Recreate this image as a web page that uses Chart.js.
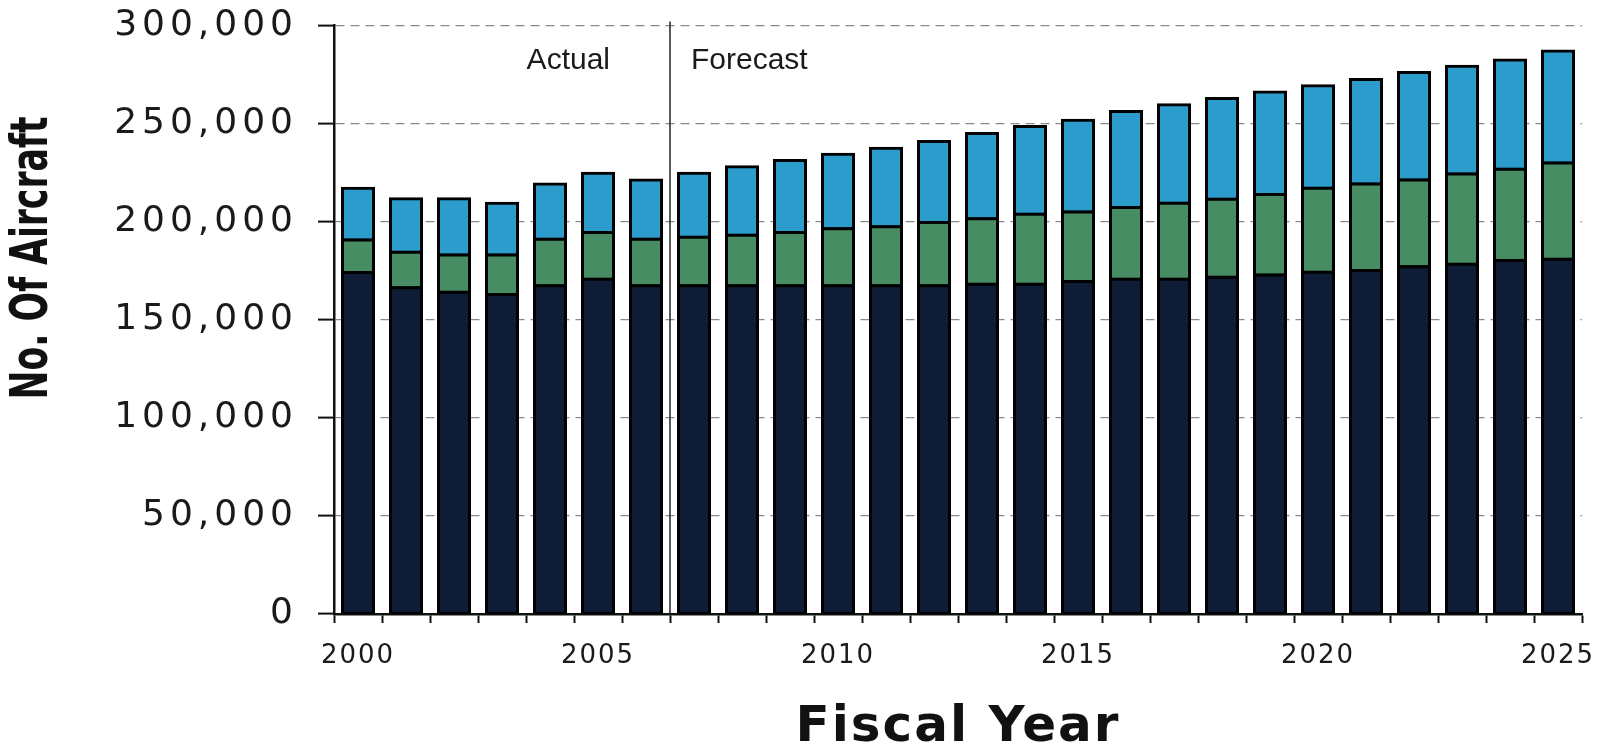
<!DOCTYPE html>
<html>
<head>
<meta charset="utf-8">
<title>No. Of Aircraft by Fiscal Year</title>
<script src="https://cdn.jsdelivr.net/npm/chart.js@4.4.1/dist/chart.umd.min.js"></script>
<style>
  html, body { margin: 0; padding: 0; background: #fff; }
  #wrap { width: 1604px; height: 749px; }
</style>
</head>
<body>
<div id="wrap"><canvas id="fleetChart" width="1604" height="749"></canvas></div>
<script>
// fiscal years on the x axis
const years = ['2000', '2001', '2002', '2003', '2004', '2005', '2006', '2007', '2008', '2009',
  '2010', '2011', '2012', '2013', '2014', '2015', '2016', '2017', '2018', '2019',
  '2020', '2021', '2022', '2023', '2024', '2025'];

// bottom segment (dark navy)
const darkSeries = [174100, 166400, 164100, 162900, 167300, 170700, 167300, 167300, 167300, 167300,
  167300, 167300, 167300, 168100, 168100, 169500, 170700, 170700, 171700, 172900,
  174300, 175100, 177100, 178300, 180200, 180900];

// middle segment (green)
const greenSeries = [16600, 18100, 19000, 20200, 23800, 23800, 23800, 24800, 25800, 27200,
  29100, 30200, 32300, 33400, 35700, 35500, 36500, 38700, 39800, 41000,
  42800, 44200, 44200, 46100, 46600, 49000];

// top segment (light blue)
const blueSeries = [26400, 27200, 28600, 26300, 28200, 30200, 30200, 32600, 34900, 36700,
  38000, 40000, 41300, 43500, 44700, 46800, 49000, 50200, 51300, 52300,
  52200, 53200, 54800, 54900, 55600, 57100];

// y ticks
const yMin = 0;
const yMax = 300000;
const yStep = 50000;

const yTitle = 'No. Of Aircraft';
const xTitle = 'Fiscal Year';
const lastActualIndex = 6;   // 2006 is the last actual year

// the scanned chart uses a very wide face, so spread the axis text a bit
const spacing = {
  id: 'spacing',
  beforeDraw(chart) { chart.ctx.letterSpacing = '2px'; },   // x title
  afterDraw(chart) { chart.ctx.letterSpacing = '0px'; }
};

// vertical divider, Actual / Forecast labels and the y title
const annotations = {
  id: 'annotations',
  afterDatasetsDraw(chart) {
    const { ctx, chartArea, scales: { x } } = chart;
    const xDiv = (x.getPixelForValue(lastActualIndex) + x.getPixelForValue(lastActualIndex + 1)) / 2;
    ctx.save();
    ctx.letterSpacing = '0px';
    ctx.strokeStyle = '#222';
    ctx.lineWidth = 1.5;
    ctx.beginPath();
    ctx.moveTo(xDiv, chartArea.top - 4);
    ctx.lineTo(xDiv, chartArea.bottom);
    ctx.stroke();

    ctx.font = '30px "Liberation Sans", Arial, sans-serif';
    ctx.fillStyle = '#1a1a1a';
    ctx.textBaseline = 'alphabetic';
    ctx.textAlign = 'right';
    ctx.fillText('Actual', xDiv - 60, chartArea.top + 43);
    ctx.textAlign = 'left';
    ctx.fillText('Forecast', xDiv + 21, chartArea.top + 43);
    ctx.restore();

    // y title, squeezed to the length it has in the original
    ctx.save();
    ctx.letterSpacing = '0px';
    ctx.translate(34, 258);
    ctx.rotate(-Math.PI / 2);
    ctx.font = 'bold 51px "DejaVu Sans", sans-serif';
    const w = ctx.measureText(yTitle).width;
    ctx.scale(283 / w, 1);
    ctx.fillStyle = '#111';
    ctx.textAlign = 'center';
    ctx.textBaseline = 'middle';
    ctx.fillText(yTitle, 0, 0);
    ctx.restore();
  }
};

const barStyle = {
  borderColor: '#000',
  borderWidth: 3,
  borderSkipped: false,
  inflateAmount: 1.5,
  barPercentage: 0.646,
  categoryPercentage: 1
};

const ctx = document.getElementById('fleetChart').getContext('2d');
const fleetChart = new Chart(ctx, {
  type: 'bar',
  data: {
    labels: years,
    datasets: [
      { label: 'dark', data: darkSeries, backgroundColor: '#0e1d35', ...barStyle },
      { label: 'green', data: greenSeries, backgroundColor: '#478c63', ...barStyle },
      { label: 'blue', data: blueSeries, backgroundColor: '#2c9ccc', ...barStyle }
    ]
  },
  options: {
    responsive: false,
    animation: false,
    layout: { padding: { top: 25.6, right: 22, left: 0, bottom: 0 } },
    plugins: {
      legend: { display: false },
      tooltip: { enabled: false }
    },
    scales: {
      x: {
        stacked: true,
        grid: { offset: true, drawOnChartArea: false, drawTicks: true, tickLength: 9, tickColor: '#111', tickWidth: 2 },
        border: { color: '#111', width: 2.5 },
        ticks: {
          autoSkip: false,
          maxRotation: 0,
          padding: 18,
          color: function(c) { c.chart.ctx.letterSpacing = '2px'; return '#1a1a1a'; },
          font: { family: '"DejaVu Sans", sans-serif', size: 26 },
          callback: function(v, i) {
            return Number(years[i]) % 5 === 0 ? years[i] : '';
          }
        },
        title: {
          display: true,
          text: xTitle,
          color: '#111',
          font: { family: '"DejaVu Sans", sans-serif', size: 50, weight: 'bold', lineHeight: 0.84 },
          padding: { top: 0, bottom: 0 }
        },
        afterFit: function(scale) {
          scale.height = 135;
          scale.paddingLeft = 0;
          scale.paddingRight = 0;
        }
      },
      y: {
        stacked: true,
        min: yMin,
        max: yMax,
        ticks: {
          stepSize: yStep,
          padding: 20,
          color: function(c) { c.chart.ctx.letterSpacing = '5px'; return '#1a1a1a'; },
          font: { family: '"DejaVu Sans", sans-serif', size: 36 },
          callback: function(v) { return v.toLocaleString('en-US'); }
        },
        grid: { color: '#8a8a8a', lineWidth: 1.2, tickColor: '#111', tickLength: 16, tickWidth: 2 },
        border: { color: '#111', width: 2.5, dash: [9, 6] },
        afterFit: function(scale) {
          scale.width = 334;
          scale.paddingTop = 0;
          scale.paddingBottom = 0;
        }
      }
    }
  },
  plugins: [spacing, annotations]
});
</script>
</body>
</html>
